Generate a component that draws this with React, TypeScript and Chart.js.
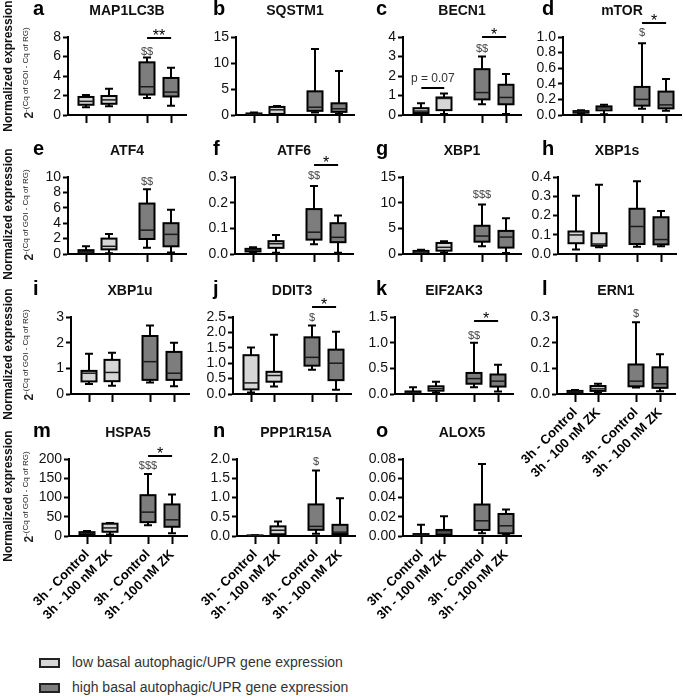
import React, { useEffect, useRef } from 'react';
import { Chart, registerables } from 'chart.js';
Chart.register(...registerables);

const FONT = "'Liberation Sans', Arial, Helvetica, sans-serif";

// ---------- data ----------
const GROUPS = ['3h - Control', '3h - 100 nM ZK', '3h - Control', '3h - 100 nM ZK'];
const X_POS = [0, 1, 2.65, 3.7];
const GROUP_LEVEL = ['low', 'low', 'high', 'high'];
const LEGEND_LABELS = ['low basal autophagic/UPR gene expression', 'high basal autophagic/UPR gene expression'];

const GENES = ['MAP1LC3B', 'SQSTM1', 'BECN1', 'mTOR', 'ATF4', 'ATF6', 'XBP1', 'XBP1s', 'XBP1u', 'DDIT3', 'EIF2AK3', 'ERN1', 'HSPA5', 'PPP1R15A', 'ALOX5'];
const LETTERS = ['a', 'b', 'c', 'd', 'e', 'f', 'g', 'h', 'i', 'j', 'k', 'l', 'm', 'n', 'o'];

const Y_TICKS = [
  ['0', '2', '4', '6', '8'],
  ['0', '5', '10', '15'],
  ['0', '1', '2', '3', '4'],
  ['0.0', '0.2', '0.4', '0.6', '0.8', '1.0'],
  ['0', '2', '4', '6', '8', '10'],
  ['0.0', '0.1', '0.2', '0.3'],
  ['0', '5', '10', '15'],
  ['0.0', '0.1', '0.2', '0.3', '0.4'],
  ['0', '1', '2', '3'],
  ['0.0', '0.5', '1.0', '1.5', '2.0', '2.5'],
  ['0.0', '0.5', '1.0', '1.5'],
  ['0.0', '0.1', '0.2', '0.3'],
  ['0', '50', '100', '150', '200'],
  ['0.0', '0.5', '1.0', '1.5', '2.0'],
  ['0.00', '0.02', '0.04', '0.06', '0.08'],
];

// box stats per group: [min, q1, median, q3, max]
const MAP1LC3B = [[0.8, 1.05, 1.4, 1.85, 2.05], [0.9, 1.15, 1.55, 1.95, 2.7], [1.75, 2.1, 2.9, 5.4, 5.9], [0.95, 1.9, 2.35, 3.8, 4.85]];
const SQSTM1 = [[0, 0.05, 0.15, 0.3, 0.5], [0.1, 0.2, 1.0, 1.55, 1.75], [0.5, 0.8, 1.5, 4.55, 12.7], [0.2, 0.6, 1.2, 2.25, 8.45]];
const BECN1 = [[0.05, 0.1, 0.2, 0.35, 0.6], [0.05, 0.25, 0.85, 0.9, 1.1], [0.55, 0.8, 1.15, 2.35, 3.0], [0.05, 0.55, 0.9, 1.55, 2.1]];
const MTOR = [[0.02, 0.03, 0.04, 0.05, 0.06], [0.01, 0.06, 0.09, 0.11, 0.13], [0.08, 0.12, 0.2, 0.36, 0.92], [0.055, 0.085, 0.13, 0.3, 0.46]];
const ATF4 = [[0, 0.1, 0.3, 0.5, 1.0], [0.1, 0.6, 1.0, 2.0, 2.6], [0.8, 1.95, 3.1, 6.55, 8.4], [0.2, 1.0, 2.55, 4.0, 5.75]];
const ATF6 = [[0.005, 0.01, 0.015, 0.02, 0.026], [0.005, 0.024, 0.04, 0.05, 0.074], [0.038, 0.056, 0.085, 0.175, 0.265], [0.005, 0.046, 0.065, 0.12, 0.15]];
const XBP1 = [[0, 0.1, 0.4, 0.6, 0.85], [0.3, 0.65, 1.3, 2.15, 2.5], [1.5, 2.4, 3.5, 5.5, 9.65], [0.2, 1.25, 3.3, 4.5, 6.95]];
const XBP1S = [[0.023, 0.056, 0.099, 0.117, 0.302], [0.035, 0.043, 0.052, 0.108, 0.36], [0.038, 0.052, 0.143, 0.235, 0.378], [0.04, 0.05, 0.075, 0.191, 0.223]];
const XBP1U = [[0.39, 0.49, 0.81, 0.9, 1.57], [0.32, 0.5, 0.84, 1.33, 1.61], [0.45, 0.55, 1.26, 2.26, 2.67], [0.3, 0.55, 0.81, 1.64, 2.0]];
const DDIT3 = [[0.05, 0.15, 0.36, 1.26, 1.51], [0.24, 0.4, 0.6, 0.72, 1.92], [0.79, 0.92, 1.19, 1.84, 2.22], [0.14, 0.45, 1.0, 1.44, 2.02]];
const EIF2AK3 = [[0, 0.02, 0.03, 0.05, 0.13], [0.03, 0.065, 0.105, 0.15, 0.24], [0.13, 0.2, 0.3, 0.41, 1.0], [0.05, 0.145, 0.25, 0.38, 0.57]];
const ERN1 = [[0.003, 0.005, 0.008, 0.012, 0.016], [0.005, 0.012, 0.02, 0.031, 0.04], [0.025, 0.03, 0.05, 0.115, 0.28], [0.011, 0.024, 0.04, 0.104, 0.155]];
const HSPA5 = [[2, 3, 7, 10, 12.7], [4, 11, 21, 32, 34], [28, 36, 62, 106, 161], [7, 24, 42, 82, 108]];
const PPP1R15A = [[0, 0.005, 0.01, 0.015, 0.02], [0.01, 0.045, 0.15, 0.25, 0.375], [0.06, 0.16, 0.25, 0.82, 1.7], [0.01, 0.05, 0.1, 0.29, 0.98]];
const ALOX5 = [[0, 0, 0.001, 0.002, 0.0116], [0, 0.0018, 0.0042, 0.0063, 0.0204], [0.0028, 0.0063, 0.0158, 0.0327, 0.0748], [0.001, 0.0028, 0.0106, 0.0229, 0.0275]];

const BOX_STATS = [MAP1LC3B, SQSTM1, BECN1, MTOR, ATF4, ATF6, XBP1, XBP1S, XBP1U, DDIT3, EIF2AK3, ERN1, HSPA5, PPP1R15A, ALOX5];

// [panel, group, y, text]
const DOLLAR_MARKS: [number, number, number, string][] = [
  [0, 2, 6.5, '$$'], [2, 2, 3.4, '$$'], [3, 2, 1.05, '$'], [4, 2, 9.4, '$$'], [5, 2, 0.303, '$$'],
  [6, 2, 11.5, '$$$'], [9, 2, 2.48, '$'], [10, 2, 1.14, '$$'], [11, 2, 0.31, '$'], [12, 2, 182, '$$$'], [13, 2, 1.92, '$'],
];
// [panel, fromGroup, toGroup, y, text]
const BRACKETS: [number, number, number, number, string][] = [
  [0, 2, 3, 7.85, '**'], [2, 0, 1, 1.36, 'p = 0.07'], [2, 2, 3, 4.0, '*'], [3, 2, 3, 1.18, '*'],
  [5, 2, 3, 0.347, '*'], [9, 2, 3, 2.82, '*'], [10, 2, 3, 1.42, '*'], [12, 2, 3, 209, '*'],
];

// ---------- layout ----------
const PLOT_LEFT = [68, 236, 403, 563, 68, 235, 403, 558, 71, 233, 395, 557, 69, 237, 403];
const ROW_TOP = [37, 177, 317, 459];
const ROW_H = [78, 77, 77, 77];
const PLOT_W = 118;
const LETTER_X = [33, 213, 376, 542];
const LABELLED = [11, 12, 13, 14];
const FILL: Record<string, string> = { low: '#d6d6d6', high: '#7d7d7d' };
const PAD_T = 35, Y_W = 60, PAD_R = 8;

function makeBoxPlugin(p: number) {
  return {
    id: 'boxes' + p,
    afterDatasetsDraw(chart: any) {
      const { ctx } = chart;
      const x = chart.scales.x, y = chart.scales.y;
      const stats = BOX_STATS[p];
      const bw = 15, cap = 4;
      ctx.save();
      stats.forEach((s: number[], i: number) => {
        const cx = Math.round(x.getPixelForValue(X_POS[i]));
        const [pmn, pq1, pmd, pq3, pmx] = s.map((v) => y.getPixelForValue(v));
        ctx.strokeStyle = '#000';
        ctx.lineWidth = 2;
        ctx.beginPath();
        ctx.moveTo(cx, pmx); ctx.lineTo(cx, pmn);
        ctx.moveTo(cx - cap, pmx); ctx.lineTo(cx + cap, pmx);
        ctx.moveTo(cx - cap, pmn); ctx.lineTo(cx + cap, pmn);
        ctx.stroke();
        ctx.fillStyle = FILL[GROUP_LEVEL[i]];
        ctx.fillRect(cx - bw / 2, pq3, bw, pq1 - pq3);
        ctx.strokeRect(cx - bw / 2, pq3, bw, pq1 - pq3);
        ctx.lineWidth = 1.5;
        ctx.strokeStyle = '#1a1a1a';
        ctx.beginPath();
        ctx.moveTo(cx - bw / 2, pmd); ctx.lineTo(cx + bw / 2, pmd);
        ctx.stroke();
      });
      DOLLAR_MARKS.filter((d) => d[0] === p).forEach(([, g, v, t]) => {
        ctx.fillStyle = '#444';
        ctx.font = `11px ${FONT}`;
        ctx.textAlign = 'center';
        ctx.textBaseline = 'middle';
        ctx.fillText(t, x.getPixelForValue(X_POS[g]), y.getPixelForValue(v));
      });
      BRACKETS.filter((d) => d[0] === p).forEach(([, g1, g2, v, t]) => {
        const x1 = x.getPixelForValue(X_POS[g1]);
        const x2 = x.getPixelForValue(X_POS[g2]);
        const py = Math.round(y.getPixelForValue(v));
        ctx.strokeStyle = '#000';
        ctx.lineWidth = 2;
        ctx.beginPath();
        ctx.moveTo(x1, py); ctx.lineTo(x2, py);
        ctx.stroke();
        ctx.textAlign = 'center';
        ctx.textBaseline = 'alphabetic';
        if (t.startsWith('p')) {
          ctx.fillStyle = '#333';
          ctx.font = `12px ${FONT}`;
          ctx.fillText(t, (x1 + x2) / 2, py - 6);
        } else {
          ctx.fillStyle = '#000';
          ctx.font = `16px ${FONT}`;
          ctx.fillText(t, (x1 + x2) / 2, py + 3);
        }
      });
      ctx.restore();
    },
  };
}

function BoxPanel({ p }: { p: number }) {
  const ref = useRef<HTMLCanvasElement>(null);
  const row = Math.floor(p / 4);
  const labelled = LABELLED.includes(p);
  const xH = labelled ? 110 : 12;
  const w = Y_W + PLOT_W + PAD_R;
  const h = PAD_T + ROW_H[row] + xH;

  useEffect(() => {
    const ticks = Y_TICKS[p];
    const yMax = parseFloat(ticks[ticks.length - 1]);
    const stats = BOX_STATS[p];
    const chart = new Chart(ref.current as HTMLCanvasElement, {
      type: 'scatter',
      data: {
        datasets: [{ data: stats.map((s, i) => ({ x: X_POS[i], y: s[2] })), pointRadius: 0, showLine: false }],
      },
      options: {
        animation: false,
        responsive: false,
        devicePixelRatio: 1,
        events: [],
        layout: { padding: { top: PAD_T, right: PAD_R, left: 0, bottom: 0 } },
        plugins: { legend: { display: false }, tooltip: { enabled: false } },
        scales: {
          x: {
            type: 'linear',
            min: -0.8,
            max: 4.35,
            afterBuildTicks: (s: any) => { s.ticks = X_POS.map((v) => ({ value: v })); },
            afterFit: (s: any) => { s.height = xH; },
            grid: { display: true, drawOnChartArea: false, drawTicks: true, tickLength: 8, tickWidth: 2, tickColor: '#000' },
            border: { display: true, color: '#000', width: 2 },
            ticks: {
              display: labelled,
              autoSkip: false,
              minRotation: 45,
              maxRotation: 45,
              padding: 3,
              color: '#000',
              font: { family: FONT, size: 13, weight: 'bold' },
              callback: (_v: any, i: number) => GROUPS[i],
            },
          },
          y: {
            type: 'linear',
            min: 0,
            max: yMax,
            afterBuildTicks: (s: any) => { s.ticks = ticks.map((t) => ({ value: parseFloat(t) })); },
            afterFit: (s: any) => { s.width = Y_W; },
            grid: { display: true, drawOnChartArea: false, drawTicks: true, tickLength: 5, tickWidth: 2, tickColor: '#000' },
            border: { display: true, color: '#000', width: 2 },
            ticks: {
              autoSkip: false,
              padding: 2,
              color: '#111',
              font: { family: FONT, size: 14 },
              callback: (_v: any, i: number) => ticks[i],
            },
          },
        },
      } as any,
      plugins: [makeBoxPlugin(p)],
    });
    return () => chart.destroy();
  }, []);

  return (
    <canvas
      ref={ref}
      width={w}
      height={h}
      style={{ position: 'absolute', left: PLOT_LEFT[p] - Y_W, top: ROW_TOP[row] - PAD_T, width: w, height: h }}
    />
  );
}

function PanelTitle({ p }: { p: number }) {
  const row = Math.floor(p / 4), col = p % 4;
  const cy = ROW_TOP[row] - 26;
  return (
    <>
      <div style={{ position: 'absolute', left: LETTER_X[col], top: cy - 13, fontFamily: FONT, fontWeight: 'bold', fontSize: 20, lineHeight: '20px', color: '#000' }}>
        {LETTERS[p]}
      </div>
      <div style={{ position: 'absolute', left: PLOT_LEFT[p], width: PLOT_W, top: cy - 8, textAlign: 'center', fontFamily: FONT, fontWeight: 'bold', fontSize: 14, lineHeight: '14px', color: '#111' }}>
        {GENES[p]}
      </div>
    </>
  );
}

function YLabel({ row }: { row: number }) {
  const c = ROW_TOP[row] + ROW_H[row] / 2;
  const c1 = row === 0 ? 66 : c - 2;
  const c2 = row === 0 ? 73 : c - 1;
  const rot: React.CSSProperties = { position: 'absolute', transform: 'translate(-50%, -50%) rotate(-90deg)', whiteSpace: 'nowrap', fontFamily: FONT };
  return (
    <>
      <div style={{ ...rot, left: 8, top: c1, fontWeight: 'bold', fontSize: 12, lineHeight: '12px', color: '#111' }}>
        Normalized expression
      </div>
      <div style={{ ...rot, left: 27, top: c2, fontSize: 12, lineHeight: '12px', color: '#222' }}>
        <span style={{ fontWeight: 'bold' }}>2</span>
        <span style={{ fontSize: 8, verticalAlign: '5px' }}>-(Cq of GOI - Cq of RG)</span>
      </div>
    </>
  );
}

export default function App() {
  const panels = GENES.map((_, i) => i);
  return (
    <div style={{ position: 'absolute', left: 0, top: 0, width: 685, height: 696, background: '#fff', overflow: 'hidden' }}>
      {panels.map((p) => <BoxPanel key={'c' + p} p={p} />)}
      {panels.map((p) => <PanelTitle key={'t' + p} p={p} />)}
      {[0, 1, 2, 3].map((r) => <YLabel key={'y' + r} row={r} />)}
      {LEGEND_LABELS.map((lab, i) => (
        <React.Fragment key={'l' + i}>
          <div style={{ position: 'absolute', left: 39, top: 663 + i * 25 - 5, width: 17, height: 6, border: '2px solid #222', background: i === 0 ? FILL.low : FILL.high }} />
          <div style={{ position: 'absolute', left: 72, top: 663 + i * 25 - 9, fontFamily: FONT, fontSize: 14, lineHeight: '16px', color: '#333', whiteSpace: 'nowrap' }}>
            {lab}
          </div>
        </React.Fragment>
      ))}
    </div>
  );
}
